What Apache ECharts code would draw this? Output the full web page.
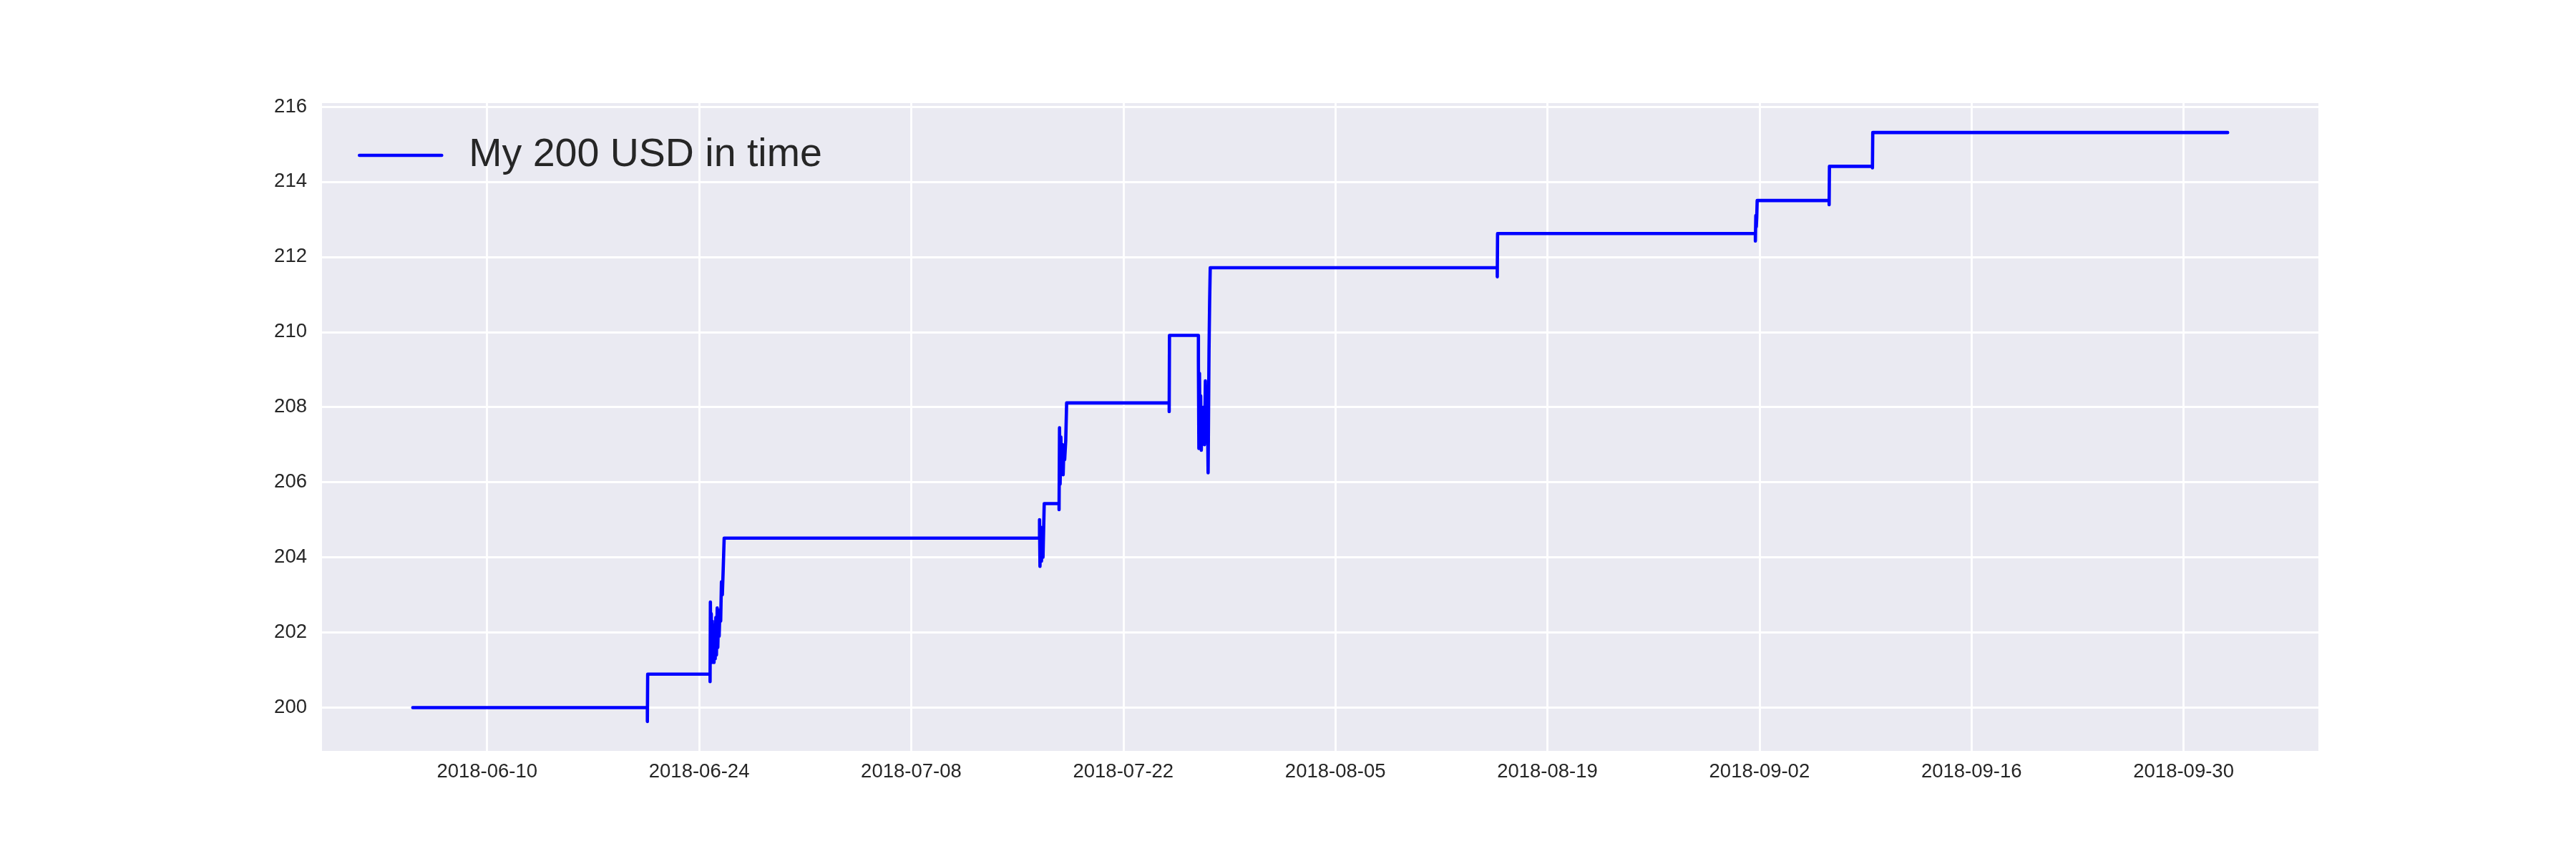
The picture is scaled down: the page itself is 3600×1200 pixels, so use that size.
<!DOCTYPE html>
<html>
<head>
<meta charset="utf-8">
<script src="https://cdn.jsdelivr.net/npm/echarts@6/dist/echarts.min.js"></script>
<style>
html,body{margin:0;padding:0;background:#ffffff;}
#chart{width:3600px;height:1200px;}
</style>
</head>
<body>
<div id="chart"></div>
<script>
// ---- data ----
const seriesName = 'My 200 USD in time';
const times = [
  '2018-06-05 02:10',
  '2018-06-20 13:55','2018-06-20 14:25',
  '2018-06-24 17:17','2018-06-24 17:46','2018-06-24 18:29','2018-06-24 19:12','2018-06-24 19:55',
  '2018-06-24 20:53','2018-06-24 21:36','2018-06-24 22:34','2018-06-24 23:31','2018-06-25 00:29',
  '2018-06-25 01:26','2018-06-25 02:24','2018-06-25 03:22','2018-06-25 04:34','2018-06-25 05:31',
  '2018-06-25 06:43','2018-06-25 07:41','2018-06-25 08:53','2018-06-25 10:05','2018-06-25 11:17',
  '2018-06-25 12:43','2018-06-25 13:55','2018-06-25 15:36',
  '2018-07-16 11:17','2018-07-16 12:00','2018-07-16 13:12','2018-07-16 14:24','2018-07-16 15:36',
  '2018-07-16 16:48','2018-07-16 18:43',
  '2018-07-17 18:14','2018-07-17 18:58','2018-07-17 19:55','2018-07-17 21:07','2018-07-17 22:19',
  '2018-07-17 23:31','2018-07-18 00:43','2018-07-18 01:55','2018-07-18 03:07','2018-07-18 04:48',
  '2018-07-18 06:14',
  '2018-07-25 00:43','2018-07-25 01:12',
  '2018-07-26 23:02','2018-07-26 23:46','2018-07-27 00:43','2018-07-27 01:41','2018-07-27 02:38',
  '2018-07-27 03:36','2018-07-27 04:48','2018-07-27 06:00','2018-07-27 07:12','2018-07-27 08:38',
  '2018-07-27 10:05','2018-07-27 11:31','2018-07-27 12:58','2018-07-27 14:24','2018-07-27 15:50',
  '2018-07-27 16:48','2018-07-27 17:46',
  '2018-08-15 16:34','2018-08-15 17:02',
  '2018-09-01 17:31','2018-09-01 18:14','2018-09-01 18:58','2018-09-01 19:41','2018-09-01 20:24',
  '2018-09-06 14:24','2018-09-06 14:53',
  '2018-09-09 11:02','2018-09-09 11:31',
  '2018-10-02 21:50'
];
const values = [
  200.00,
  199.63, 200.89,
  200.69, 202.81, 201.30, 202.50, 201.20,
  202.30, 201.25, 202.10, 201.20, 202.20,
  201.30, 202.40, 201.40, 202.65, 201.60,
  202.45, 201.90, 202.60, 202.30, 203.35,
  203.00, 203.60, 204.51,
  205.00, 203.76, 204.80, 203.90, 204.60,
  204.00, 205.43,
  205.27, 207.45, 205.95, 207.20, 206.30,
  207.00, 206.20, 206.90, 206.60, 207.10,
  208.11,
  207.88, 209.91,
  209.20, 206.90, 208.90, 207.00, 208.30,
  206.85, 207.80, 207.20, 208.00, 207.00,
  208.70, 207.10, 208.50, 206.25, 209.50,
  210.80, 211.71,
  211.47, 212.62,
  212.42, 213.10, 212.80, 213.05, 213.50,
  213.39, 214.41,
  214.37, 215.31,
  215.31
];
const xTickOrigin = '2018-06-10';   // first labelled date
const xTickStepDays = 14;          // one label every two weeks
const yTickStep = 2;               // 200, 202, ... 216

// ---- helpers ----
const DAY = 86400000;
function toUTC(s) {
  const [d, t] = s.split(' ');
  const [Y, M, D] = d.split('-').map(Number);
  const [h, m] = (t || '00:00').split(':').map(Number);
  return Date.UTC(Y, M - 1, D, h, m);
}
const origin = toUTC(xTickOrigin);
const xs = times.map(t => (toUTC(t) - origin) / DAY);
const data = xs.map((x, i) => [x, values[i]]);

// matplotlib-like 5% autoscale margins
const xLo = Math.min(...xs), xHi = Math.max(...xs);
const yLo = Math.min(...values), yHi = Math.max(...values);
const xPad = (xHi - xLo) * 0.05, yPad = (yHi - yLo) * 0.05;

const FONT = '"Liberation Sans", Arial, "DejaVu Sans", sans-serif';
const TXT = '#262626';
const LINE_W = 4.6;

const chart = echarts.init(document.getElementById('chart'), null, {renderer: 'canvas'});
chart.setOption({
  animation: false,
  backgroundColor: '#ffffff',
  grid: {
    left: 450, right: 360, top: 144, bottom: 151,
    show: true, backgroundColor: '#EAEAF2', borderWidth: 0,
    containLabel: false, outerBoundsMode: 'none'
  },
  legend: {
    show: true,
    left: 500, top: 189,
    orient: 'horizontal',
    padding: 0,
    itemWidth: 115, itemHeight: 20,
    itemStyle: {color: 'rgba(0,0,0,0)', borderWidth: 0, opacity: 0},
    lineStyle: {width: LINE_W, cap: 'round', color: '#0000ff', opacity: 1},
    textStyle: {fontSize: 55.5, color: TXT, fontFamily: FONT, padding: [0, 0, 0, 33]},
    data: [seriesName]
  },
  xAxis: {
    type: 'value',
    min: xLo - xPad, max: xHi + xPad,
    minInterval: xTickStepDays, maxInterval: xTickStepDays,
    axisLine: {show: false}, axisTick: {show: false},
    splitLine: {show: true, showMinLine: false, showMaxLine: false, lineStyle: {color: '#ffffff', width: 2.8}},
    axisLabel: {
      show: true, showMinLabel: false, showMaxLabel: false,
      margin: 15, fontSize: 27.5, color: TXT, fontFamily: FONT,
      formatter: v => new Date(origin + Math.round(v) * DAY).toISOString().slice(0, 10)
    }
  },
  yAxis: {
    type: 'value',
    min: yLo - yPad, max: yHi + yPad,
    minInterval: yTickStep, maxInterval: yTickStep,
    axisLine: {show: false}, axisTick: {show: false},
    splitLine: {show: true, showMinLine: false, showMaxLine: false, lineStyle: {color: '#ffffff', width: 2.8}},
    axisLabel: {
      show: true, showMinLabel: false, showMaxLabel: false,
      margin: 21, fontSize: 27.5, color: TXT, fontFamily: FONT,
      formatter: v => String(Math.round(v))
    }
  },
  series: [{
    name: seriesName,
    type: 'line',
    data: data,
    step: 'end',
    showSymbol: false,
    symbol: 'none',
    color: '#0000ff',
    lineStyle: {color: '#0000ff', width: LINE_W, cap: 'round', join: 'round'},
    emphasis: {disabled: true}
  }]
});
</script>
</body>
</html>
